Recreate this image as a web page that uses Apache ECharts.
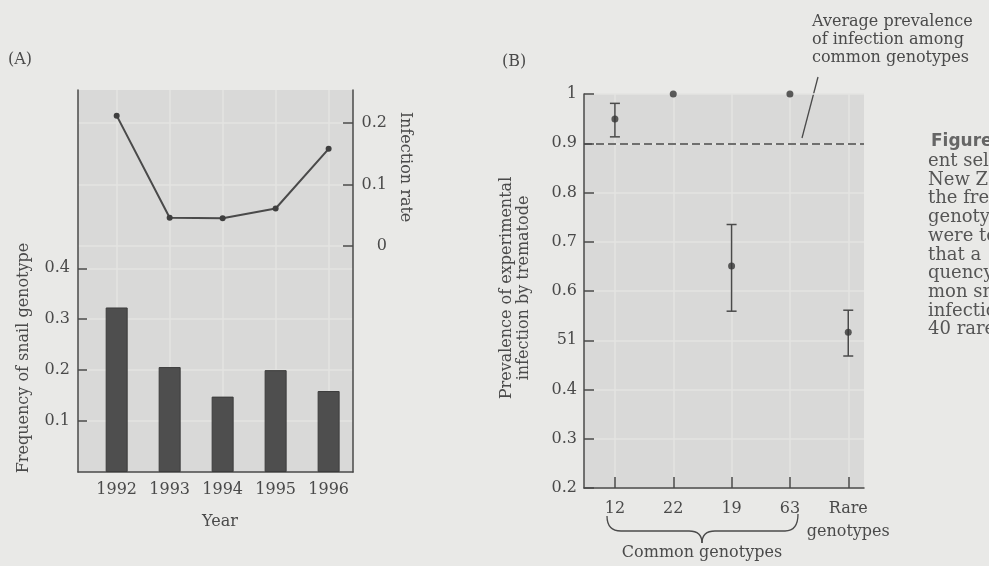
<!DOCTYPE html>
<html>
<head>
<meta charset="utf-8">
<script src="https://cdn.jsdelivr.net/npm/echarts@6/dist/echarts.min.js"></script>
<style>
  html, body { margin: 0; padding: 0; background: #e9e9e7; }
  #chart { width: 989px; height: 566px; }
</style>
</head>
<body>
<div id="chart"></div>
<script>
// panel A
const years = [1992, 1993, 1994, 1995, 1996]
const genotypeFreq = [0.323, 0.206, 0.148, 0.2, 0.159]
const infectionRate = [0.212, 0.046, 0.045, 0.061, 0.158]
const freqTicks = [0.1, 0.2, 0.3, 0.4]
const rateTicks = [0, 0.1, 0.2]

// panel B
const genotypes = ['12', '22', '19', '63', 'Rare\ngenotypes']
const prevalence = [0.949, 1.0, 0.651, 1.0, 0.516]
const errLow = [0.913, null, 0.559, null, 0.468]
const errHigh = [0.981, null, 0.735, null, 0.561]
const prevTicks = [0.2, 0.3, 0.4, 0.5, 0.6, 0.7, 0.8, 0.9, 1]
const prevTickLabels = ['0.2', '0.3', '0.4', '51', '0.6', '0.7', '0.8', '0.9', '1']
const commonAverage = 0.897

const ink = '#4a4a4a'
const serif = 'DejaVu Serif'
const plotBg = '#d9d9d8'
const gridLine = '#e3e3e2'

let chart = echarts.init(document.getElementById('chart'))

let positions = genotypes.map((g, i) => i + 1)

// curly brace under the common genotypes
const braceStyle = { stroke: ink, lineWidth: 1.3, fill: 'none' }
let brace = [
  { type: 'bezierCurve', shape: { x1: 607, y1: 516, x2: 621, y2: 531, cpx1: 607, cpy1: 531 }, style: braceStyle },
  { type: 'line', shape: { x1: 621, y1: 531, x2: 689, y2: 531 }, style: braceStyle },
  { type: 'bezierCurve', shape: { x1: 689, y1: 531, x2: 702, y2: 543, cpx1: 702, cpy1: 531 }, style: braceStyle },
  { type: 'bezierCurve', shape: { x1: 702, y1: 543, x2: 715, y2: 531, cpx1: 702, cpy1: 531 }, style: braceStyle },
  { type: 'line', shape: { x1: 715, y1: 531, x2: 785, y2: 531 }, style: braceStyle },
  { type: 'bezierCurve', shape: { x1: 785, y1: 531, x2: 798, y2: 514, cpx1: 798, cpy1: 531 }, style: braceStyle }
]

let option = {
  backgroundColor: '#e9e9e7',
  animation: false,
  textStyle: { fontFamily: serif, color: ink },
  grid: [
    { left: 78, top: 90, width: 275, height: 382, show: true, backgroundColor: plotBg, borderWidth: 0 },
    { left: 584, top: 94, width: 280, height: 394, show: true, backgroundColor: plotBg, borderWidth: 0 }
  ],
  xAxis: [
    {
      type: 'value', gridIndex: 0, min: 1991.27, max: 1996.46,
      axisLine: { show: true, lineStyle: { color: ink, width: 1.5 } },
      axisTick: { show: false, customValues: years },
      axisLabel: { customValues: years, formatter: v => String(v), margin: 10, fontSize: 16, color: ink, fontFamily: serif },
      splitLine: { show: true, lineStyle: { color: gridLine, width: 1.5 } }
    },
    {
      type: 'value', gridIndex: 1, min: 0.47, max: 5.27,
      axisLine: { show: true, lineStyle: { color: ink, width: 1.5 } },
      axisTick: { show: true, inside: true, length: 11, customValues: positions, lineStyle: { color: ink, width: 1.5 } },
      axisLabel: {
        customValues: positions, formatter: v => genotypes[Math.round(v) - 1],
        margin: 9, fontSize: 16, lineHeight: 23, color: ink, fontFamily: serif
      },
      splitLine: { show: true, lineStyle: { color: gridLine, width: 1.5 } }
    }
  ],
  yAxis: [
    {
      type: 'value', gridIndex: 0, position: 'left', min: 0, max: 0.75,
      axisLine: { show: true, lineStyle: { color: ink, width: 1.5 } },
      axisTick: { show: true, inside: true, length: 9, customValues: freqTicks, lineStyle: { color: ink, width: 1.5 } },
      axisLabel: { customValues: freqTicks, formatter: v => v.toFixed(1), margin: 8, fontSize: 16, color: ink, fontFamily: serif },
      splitLine: { show: true, lineStyle: { color: gridLine, width: 1.5 } }
    },
    {
      type: 'value', gridIndex: 0, position: 'right', min: -0.3675, max: 0.2537,
      axisLine: { show: true, lineStyle: { color: ink, width: 1.5 } },
      axisTick: { show: true, inside: true, length: 10, customValues: rateTicks, lineStyle: { color: ink, width: 1.5 } },
      axisLabel: {
        customValues: rateTicks, formatter: v => (Math.abs(v) < 1e-9 ? '0' : v.toFixed(1)),
        align: 'right', margin: 34, fontSize: 16, color: ink, fontFamily: serif
      },
      splitLine: { show: true, lineStyle: { color: gridLine, width: 1.5 } }
    },
    {
      type: 'value', gridIndex: 1, min: 0.2, max: 1,
      axisLine: { show: true, lineStyle: { color: ink, width: 1.5 } },
      axisTick: { show: true, inside: true, length: 10, customValues: prevTicks, lineStyle: { color: ink, width: 1.5 } },
      axisLabel: {
        customValues: prevTicks,
        formatter: v => prevTickLabels[prevTicks.findIndex(t => Math.abs(t - v) < 1e-6)],
        margin: 7, fontSize: 16, color: ink, fontFamily: serif
      },
      splitLine: { show: true, lineStyle: { color: gridLine, width: 1.5 } }
    }
  ],
  series: [
    {
      type: 'bar', xAxisIndex: 0, yAxisIndex: 0, barWidth: 22,
      itemStyle: { color: '#4e4e4e', borderColor: '#3c3c3c', borderWidth: 1 },
      data: years.map((y, i) => [y, genotypeFreq[i]])
    },
    {
      type: 'line', xAxisIndex: 0, yAxisIndex: 1,
      symbol: 'circle', symbolSize: 6,
      lineStyle: { color: ink, width: 2 },
      itemStyle: { color: '#3f3f3f' },
      data: years.map((y, i) => [y, infectionRate[i]])
    },
    {
      type: 'custom', xAxisIndex: 1, yAxisIndex: 2,
      encode: { x: 0, y: [1, 2] },
      data: positions.map((p, i) => [p, errLow[i], errHigh[i]]).filter(d => d[1] != null),
      renderItem: function (params, api) {
        let lo = api.coord([api.value(0), api.value(1)])
        let hi = api.coord([api.value(0), api.value(2)])
        let w = 5
        let st = { stroke: ink, lineWidth: 1.5 }
        return {
          type: 'group',
          children: [
            { type: 'line', shape: { x1: lo[0], y1: lo[1], x2: hi[0], y2: hi[1] }, style: st },
            { type: 'line', shape: { x1: lo[0] - w, y1: lo[1], x2: lo[0] + w, y2: lo[1] }, style: st },
            { type: 'line', shape: { x1: hi[0] - w, y1: hi[1], x2: hi[0] + w, y2: hi[1] }, style: st }
          ]
        }
      }
    },
    {
      type: 'scatter', xAxisIndex: 1, yAxisIndex: 2, symbolSize: 7,
      itemStyle: { color: '#363636' },
      data: positions.map((p, i) => [p, prevalence[i]]),
      markLine: {
        silent: true, symbol: 'none', label: { show: false },
        lineStyle: { color: ink, width: 1.5, type: [8, 4] },
        data: [{ yAxis: commonAverage }]
      }
    }
  ],
  graphic: [
    { type: 'text', x: 8, y: 60, style: { text: '(A)', font: '16px "DejaVu Serif"', fill: ink, verticalAlign: 'middle' } },
    { type: 'text', x: 502, y: 62, style: { text: '(B)', font: '16px "DejaVu Serif"', fill: ink, verticalAlign: 'middle' } },
    {
      type: 'text', x: 24, y: 358, rotation: Math.PI / 2,
      style: { text: 'Frequency of snail genotype', font: '16px "DejaVu Serif"', fill: ink, align: 'center', verticalAlign: 'middle' }
    },
    {
      type: 'text', x: 405, y: 167, rotation: -Math.PI / 2,
      style: { text: 'Infection rate', font: '16px "DejaVu Serif"', fill: ink, align: 'center', verticalAlign: 'middle' }
    },
    { type: 'text', x: 220, y: 522, style: { text: 'Year', font: '16px "DejaVu Serif"', fill: ink, align: 'center', verticalAlign: 'middle' } },
    {
      type: 'text', x: 515, y: 288, rotation: Math.PI / 2,
      style: {
        text: 'Prevalence of experimental\ninfection by trematode', font: '16px "DejaVu Serif"', lineHeight: 17,
        fill: ink, align: 'center', verticalAlign: 'middle'
      }
    },
    ...brace,
    { type: 'text', x: 702, y: 553, style: { text: 'Common genotypes', font: '16px "DejaVu Serif"', fill: ink, align: 'center', verticalAlign: 'middle' } },
    {
      type: 'text', x: 812, y: 13,
      style: {
        text: 'Average prevalence\nof infection among\ncommon genotypes', font: '16px "DejaVu Serif"', lineHeight: 18,
        fill: ink, verticalAlign: 'top'
      }
    },
    { type: 'line', shape: { x1: 818, y1: 77, x2: 802, y2: 138 }, style: { stroke: ink, lineWidth: 1.3 } },
    { type: 'text', x: 931, y: 142, style: { text: 'Figure', font: 'bold 17px "DejaVu Sans"', fill: '#666', verticalAlign: 'middle' } },
    {
      type: 'text', x: 928, y: 152,
      style: {
        text: 'ent selection\nNew Zealand\nthe frequency\ngenotype\nwere tested\nthat a\nquency\nmon snail\ninfection\n40 rare',
        font: '18px "DejaVu Serif"', lineHeight: 18.7, fill: '#555', verticalAlign: 'top'
      }
    }
  ]
}

chart.setOption(option)
</script>
</body>
</html>
